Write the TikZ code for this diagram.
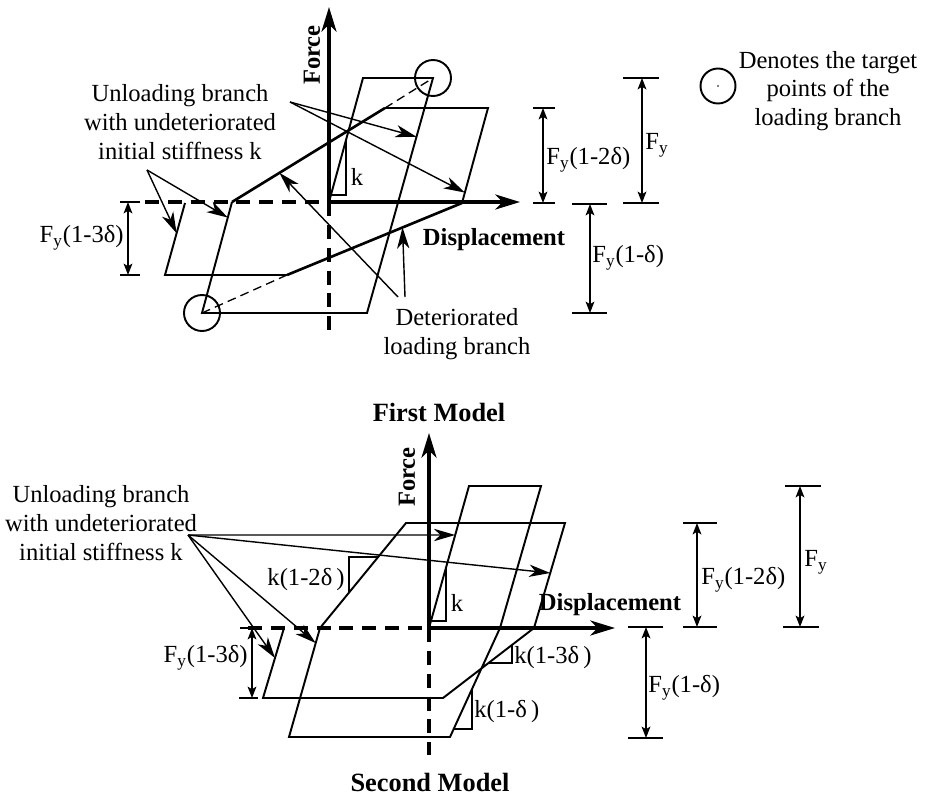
\documentclass[tikz,border=0pt]{standalone}
\usepackage{fontspec}
\setmainfont{Liberation Serif}
\usetikzlibrary{calc}
\usetikzlibrary{arrows.meta}

\tikzset{
    axisline/.style={line width=2pt},
    axisdash/.style={line width=2pt, dash pattern=on 8pt off 5pt},
    axisarrow/.style={line width=2pt, -{Stealth[length=14pt, width=8.5pt, inset=4pt]}},
    branch/.style={line width=1.1pt, line join=miter},
    loadbranch/.style={line width=1.5pt},
    targetline/.style={line width=0.75pt, dash pattern=on 5pt off 3pt},
    pointer/.style={line width=0.8pt, -{Stealth[length=12pt, width=7pt, inset=3.5pt]}},
    dimarrow/.style={line width=0.8pt, {Stealth[length=6.5pt, width=5pt, inset=1.5pt]}-{Stealth[length=6.5pt, width=5pt, inset=1.5pt]}},
    dimtick/.style={line width=1.1pt},
    txt/.style={inner sep=0pt, font=\fontsize{14}{16.4}\selectfont, align=center},
    boldtxt/.style={inner sep=0pt, font=\fontsize{14}{16.4}\selectfont\bfseries},
    titletxt/.style={inner sep=0pt, font=\fontsize{15}{18}\selectfont\bfseries},
}

\begin{document}
\begin{tikzpicture}[x=0.02cm, y=-0.02cm]
        \useasboundingbox (0,0) rectangle (947,798);

        % ===== First Model =====
        % 折れ点
        \coordinate (O1) at (329,202);
        \coordinate (A1) at (363,78);
        \coordinate (T1) at (433,78);
        \coordinate (B1) at (367,313);
        \coordinate (P1) at (202,313);
        \coordinate (C1) at (232,202);
        \coordinate (D1) at (385,108);
        \coordinate (E1) at (488,108);
        \coordinate (F1) at (462,203);
        \coordinate (G1) at (287,275);
        \coordinate (H1) at (165,275);
        \coordinate (I1) at (185,203);
        \coordinate (Fend1) at (329,7);
        \coordinate (Fneg1) at (329,330);
        \coordinate (Dend1) at (520,202);
        \coordinate (Dneg1) at (145,202);

        % 軸
        \draw[axisdash] (Dneg1) -- (O1);
        \draw[axisdash] (O1) -- (Fneg1);
        \draw[axisarrow] (O1) -- (Fend1);
        \draw[axisarrow] (O1) -- (Dend1);
        \node[boldtxt, rotate=90] (Force1) at (312,55) {Force};
        \node[boldtxt] (Disp1) at (494,240) {Displacement};

        % 履歴ループ
        \draw[branch] (O1) -- (A1) -- (T1) -- (B1) -- (P1) -- (C1);
        \draw[loadbranch] (C1) -- (D1);
        \draw[targetline] (D1) -- (T1);
        \draw[branch] (D1) -- (E1) -- (F1);
        \draw[loadbranch] (F1) -- (G1);
        \draw[targetline] (G1) -- (P1);
        \draw[branch] (G1) -- (H1) -- (I1);
        \draw[branch] (T1) circle (18);
        \draw[branch] (P1) circle (18);
        \draw[branch] ($(O1)!0.06!(A1)$) -| ($(O1)!0.5!(A1)$);
        \node[txt] (kA1) at (357,177) {k};

        % 説明の矢印
        \node[txt] (Unld1) at (180,122) {Unloading branch\\with undeteriorated\\initial stiffness k};
        \coordinate (s1a) at (290,102);
        \coordinate (s1b) at (147,170);
        \draw[pointer] (s1a) -- ($(T1)!0.25!(B1)$);
        \draw[pointer] (s1a) -- ($(E1)!0.89!(F1)$);
        \draw[pointer] (s1b) -- ($(H1)!0.58!(I1)$);
        \draw[pointer] (s1b) -- ($(P1)!0.86!(C1)$);
        \node[txt] (Detr1) at (457,334) {Deteriorated\\loading branch};
        \coordinate (s1c) at (398,297);
        \coordinate (s1d) at (405,297);
        \draw[pointer] (s1c) -- ($(C1)!0.31!(D1)$);
        \draw[pointer] (s1d) -- ($(F1)!0.34!(G1)$);

        % 寸法線
        \draw[dimtick] (120,202) -- (140,202) (120,275) -- (140,275);
        \draw[dimarrow] (128,202) -- (128,275);
        \node[txt, anchor=east] (Fy3d1) at (124,238) {F\textsubscript{y}(1-3δ)};
        \draw[dimtick] (533,108) -- (555,108) (533,203) -- (555,203);
        \draw[dimarrow] (543,108) -- (543,203);
        \node[txt, anchor=west] (Fy2d1) at (546,160) {F\textsubscript{y}(1-2δ)};
        \draw[dimtick] (623,78) -- (659,78) (623,203) -- (659,203);
        \draw[dimarrow] (642,78) -- (642,203);
        \node[txt, anchor=west] (Fy1) at (645,145) {F\textsubscript{y}};
        \draw[dimtick] (572,204) -- (607,204) (572,313) -- (607,313);
        \draw[dimarrow] (590,204) -- (590,313);
        \node[txt, anchor=west] (Fy1d1) at (592,258) {F\textsubscript{y}(1-δ)};

        % 凡例
        \coordinate (Leg) at (718,86);
        \draw[branch] (Leg) circle (17.5);
        \fill (Leg) circle (0.8);
        \node[txt] (LegTxt) at (828,91) {Denotes the target\\points of the\\loading branch};

        \node[titletxt] (Title1) at (439,412) {First Model};

        % ===== Second Model =====
        \coordinate (O2) at (429,628);
        \coordinate (A2) at (469,486);
        \coordinate (T2) at (541,486);
        \coordinate (R2) at (500,628);
        \coordinate (B2) at (450,737);
        \coordinate (P2) at (289,737);
        \coordinate (C2) at (320,628);
        \coordinate (D2) at (406,523);
        \coordinate (E2) at (565,523);
        \coordinate (F2) at (534,628);
        \coordinate (G2) at (443,698);
        \coordinate (H2) at (263,698);
        \coordinate (I2) at (284,628);
        \coordinate (Fend2) at (429,433);
        \coordinate (Fneg2) at (429,755);
        \coordinate (Dend2) at (615,628);
        \coordinate (Dneg2) at (248,628);

        % 軸
        \draw[axisdash] (Dneg2) -- (O2);
        \draw[axisdash] (O2) -- (Fneg2);
        \draw[axisarrow] (O2) -- (Fend2);
        \draw[axisarrow] (O2) -- (Dend2);
        \node[boldtxt, rotate=90] (Force2) at (407,477) {Force};
        \node[boldtxt] (Disp2) at (610,605) {Displacement};

        % 履歴ループ
        \draw[branch] (O2) -- (A2) -- (T2) -- (R2) -- (B2) -- (P2) -- (C2) -- (D2) -- (E2) -- (F2) -- (G2) -- (H2) -- (I2);
        \draw[branch] ($(O2)!0.05!(A2)$) -| ($(O2)!0.425!(A2)$);
        \node[txt] (kA2) at (457,603) {k};
        \draw[branch] ($(C2)!0.337!(D2)$) |- ($(C2)!0.676!(D2)$);
        \node[txt, anchor=east] (k2d2) at (345,580) {k(1-2δ\,)};
        \draw[branch] ($(F2)!0.5!(G2)$) -| ($(F2)!0.242!(G2)$);
        \node[txt, anchor=west] (k3d2) at (514,658) {k(1-3δ\,)};
        \draw[branch] ($(R2)!0.927!(B2)$) -| ($(R2)!0.56!(B2)$);
        \node[txt, anchor=west] (k1d2) at (474,712) {k(1-δ\,)};

        % 説明の矢印
        \node[txt] (Unld2) at (101,523) {Unloading branch\\with undeteriorated\\initial stiffness k};
        \coordinate (s2) at (188,535);
        \draw[pointer] (s2) -- ($(O2)!0.655!(A2)$);
        \draw[pointer] (s2) -- ($(E2)!0.476!(F2)$);
        \draw[pointer] (s2) -- ($(H2)!0.571!(I2)$);
        \draw[pointer] (s2) -- ($(P2)!0.862!(C2)$);

        % 寸法線
        \draw[dimtick] (240,628) -- (258,628) (239,698) -- (258,698);
        \draw[dimarrow] (252,628) -- (252,698);
        \node[txt, anchor=east] (Fy3d2) at (248,658) {F\textsubscript{y}(1-3δ)};
        \draw[dimtick] (683,523) -- (717,523) (683,627) -- (717,627);
        \draw[dimarrow] (697,523) -- (697,627);
        \node[txt, anchor=west] (Fy2d2) at (701,580) {F\textsubscript{y}(1-2δ)};
        \draw[dimtick] (785,486) -- (821,486) (783,627) -- (819,627);
        \draw[dimarrow] (800,486) -- (800,627);
        \node[txt, anchor=west] (Fy2) at (804,562) {F\textsubscript{y}};
        \draw[dimtick] (628,627) -- (663,627) (628,738) -- (663,738);
        \draw[dimarrow] (646,627) -- (646,738);
        \node[txt, anchor=west] (Fy1d2) at (648,688) {F\textsubscript{y}(1-δ)};

        \node[titletxt] (Title2) at (430,782) {Second Model};
\end{tikzpicture}
\end{document}
